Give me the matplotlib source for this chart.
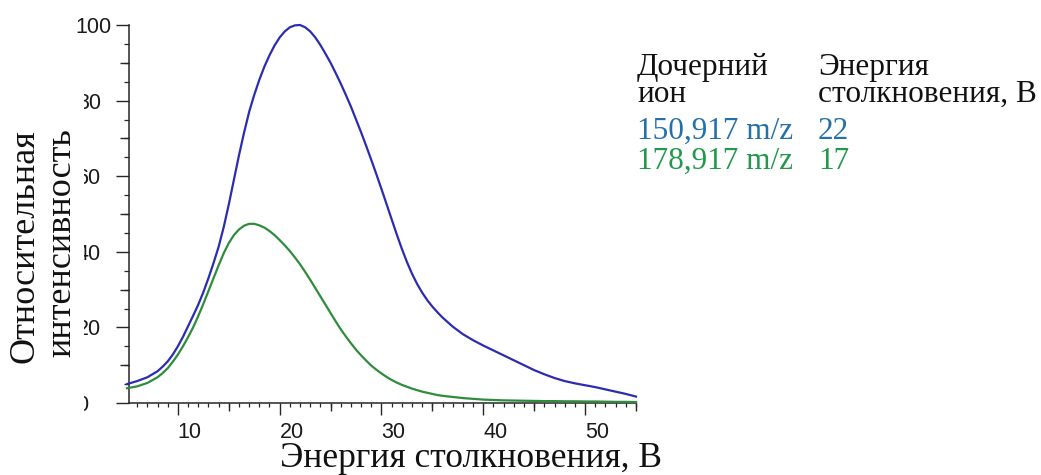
import matplotlib
matplotlib.use("Agg")
import matplotlib.pyplot as plt
from matplotlib.ticker import FixedLocator, MultipleLocator, NullFormatter
from matplotlib.patches import Rectangle

# Collision energy, V (finer steps across the peaks)
energy = [5, 6, 7, 8, 8.5, 9, 9.5, 10, 10.5, 11, 11.5, 12, 12.5, 13, 13.5,
          14, 14.5, 15, 15.5, 16, 16.5, 17, 17.5, 18, 18.5, 19, 19.5, 20,
          20.5, 21, 21.5, 22, 22.5, 23, 23.5, 24, 24.5, 25, 25.5, 26, 26.5,
          27, 27.5, 28, 28.5, 29, 29.5, 30, 30.5, 31, 31.5, 32, 32.5, 33,
          33.5, 34, 34.5, 35, 35.5, 36, 37, 38, 39, 40, 41, 42, 43, 44, 45,
          46, 47, 48, 49, 50, 51, 52, 53, 54, 55]

# Relative intensity of the product ions
ion_150 = [5.0, 5.8, 6.8, 8.4, 9.6, 11.0, 12.8, 15.0, 17.5, 20.3, 23.1,
           26.0, 29.3, 33.0, 37.0, 41.3, 46.5, 52.5, 59.0, 65.5, 71.5,
           77.0, 81.5, 85.5, 89.0, 92.0, 94.6, 96.7, 98.3, 99.4, 99.9,
           100.0, 99.4, 98.3, 96.7, 94.7, 92.4, 90.0, 87.3, 84.5, 81.5,
           78.4, 75.0, 71.6, 68.0, 64.3, 60.5, 56.6, 52.6, 48.6, 44.6,
           40.8, 37.3, 34.2, 31.5, 29.2, 27.2, 25.5, 24.0, 22.6, 20.2,
           18.2, 16.6, 15.2, 13.9, 12.6, 11.3, 10.0, 8.7, 7.6, 6.6, 5.8,
           5.2, 4.7, 4.2, 3.6, 3.0, 2.4, 1.7]
ion_178 = [3.9, 4.4, 5.3, 6.8, 7.9, 9.2, 10.9, 12.8, 15.0, 17.4, 20.0,
           23.0, 26.2, 29.6, 33.0, 36.4, 39.6, 42.3, 44.4, 45.9, 46.9,
           47.4, 47.4, 47.0, 46.4, 45.5, 44.4, 43.1, 41.7, 40.2, 38.5,
           36.7, 34.7, 32.6, 30.4, 28.2, 26.0, 23.8, 21.6, 19.5, 17.6,
           15.8, 14.1, 12.6, 11.2, 9.9, 8.8, 7.8, 6.9, 6.1, 5.4, 4.8,
           4.3, 3.8, 3.4, 3.0, 2.7, 2.4, 2.1, 1.9, 1.6, 1.3, 1.1, 0.9,
           0.8, 0.7, 0.65, 0.6, 0.55, 0.5, 0.5, 0.45, 0.45, 0.4, 0.4,
           0.35, 0.3, 0.3, 0.25]

ion_labels = ["150,917 m/z", "178,917 m/z"]
optimal_energy = [22, 17]

x_ticks = [10, 20, 30, 40, 50]
x_mid_ticks = [15, 25, 35, 45, 55]
y_ticks = [0, 20, 40, 60, 80, 100]
y_mid_ticks = [10, 30, 50, 70, 90]

line_colors = ["#2c2cb2", "#2e8c3c"]
text_colors = ["#2470a8", "#22984a"]

SANS = "Liberation Sans"
SERIF = "Liberation Serif"
AXIS_COLOR = "#262626"

W, H = 1041, 475
fig = plt.figure(figsize=(W / 100, H / 100), dpi=100)
ax = fig.add_axes([129 / W, 1 - 403 / H, (636 - 129) / W, (403 - 25) / H])

for y, c in zip([ion_150, ion_178], line_colors):
    ax.plot(energy, y, color=c, lw=1.6, clip_on=False, zorder=3,
            solid_joinstyle="round")

ax.set_xlim(5.2, 55)
ax.set_ylim(0, 100)

for side in ("top", "right"):
    ax.spines[side].set_visible(False)
for side in ("left", "bottom"):
    ax.spines[side].set_linewidth(1.1)
    ax.spines[side].set_color(AXIS_COLOR)

# x axis: labelled ticks every 10, medium at 5s, small every unit
ax.xaxis.set_major_locator(FixedLocator(x_ticks))
ax.xaxis.set_minor_locator(MultipleLocator(1))
ax.xaxis.set_minor_formatter(NullFormatter())
ax.tick_params(axis="x", which="major", direction="out", length=8.6, width=1.0,
               color=AXIS_COLOR, pad=5, labelsize=15.5, labelcolor="#1a1a1a")
ax.tick_params(axis="x", which="minor", direction="out", length=3.0, width=0.9,
               color=AXIS_COLOR)
for lab in ax.get_xticklabels():
    lab.set_fontfamily(SANS)
    lab.set_horizontalalignment("left")

# y axis: labelled ticks every 20, medium at 10s, small every 5
ax.yaxis.set_major_locator(FixedLocator(y_ticks))
ax.yaxis.set_minor_locator(MultipleLocator(5))
ax.yaxis.set_minor_formatter(NullFormatter())
ax.tick_params(axis="y", which="major", direction="out", length=9.4, width=1.0,
               color=AXIS_COLOR, pad=10.8, labelsize=15.5, labelcolor="#1a1a1a")
ax.tick_params(axis="y", which="minor", direction="out", length=3.6, width=0.9,
               color=AXIS_COLOR)
for lab in ax.get_yticklabels():
    lab.set_fontfamily(SANS)
for tick, v in zip(ax.yaxis.get_major_ticks(), y_ticks):
    if v == 100:
        tick.set_pad(3.0)
    elif v == 0:
        tick.set_pad(20.0)

secx = ax.secondary_xaxis("bottom")
secx.set_xticks(x_mid_ticks)
secx.xaxis.set_major_formatter(NullFormatter())
secx.tick_params(axis="x", direction="out", length=6.0, width=1.0, color=AXIS_COLOR)
secx.spines["bottom"].set_visible(False)

secy = ax.secondary_yaxis("left")
secy.set_yticks(y_mid_ticks)
secy.yaxis.set_major_formatter(NullFormatter())
secy.tick_params(axis="y", direction="out", length=6.5, width=1.0, color=AXIS_COLOR)
secy.spines["left"].set_visible(False)

# white panel behind the y-axis title
fig.add_artist(Rectangle((0, 1 - 420 / H), 84 / W, (420 - 45) / H,
                         transform=fig.transFigure, facecolor="white",
                         edgecolor="none", zorder=5))

fig.text(25 / W, 1 - 246 / H, "Относительная", rotation=90, ha="center",
         va="center", fontsize=26, family=SERIF, color="#111111", zorder=6)
fig.text(62 / W, 1 - 243 / H, "интенсивность", rotation=90, ha="center",
         va="center", fontsize=26, family=SERIF, color="#111111", zorder=6)

fig.text(280 / W, 1 - 467 / H, "Энергия столкновения, В", ha="left",
         va="baseline", fontsize=25.5, family=SERIF, color="#111111")

# ion / collision energy table
col1, col2 = 637 / W, 818 / W
fs_table = 22.5
fig.text(col1, 1 - 75 / H, "Дочерний", ha="left", va="baseline",
         fontsize=fs_table, family=SERIF, color="#111111")
fig.text(col1, 1 - 102 / H, "ион", ha="left", va="baseline",
         fontsize=fs_table, family=SERIF, color="#111111")
fig.text(col2, 1 - 75 / H, "Энергия", ha="left", va="baseline",
         fontsize=fs_table, family=SERIF, color="#111111")
fig.text(col2, 1 - 102 / H, "столкновения, В", ha="left", va="baseline",
         fontsize=fs_table, family=SERIF, color="#111111")
for i, (name, e, c) in enumerate(zip(ion_labels, optimal_energy, text_colors)):
    base = 139 + 30 * i
    fig.text(col1, 1 - base / H, name, ha="left", va="baseline",
             fontsize=fs_table, family=SERIF, color=c)
    fig.text(col2, 1 - base / H, str(e), ha="left", va="baseline",
             fontsize=fs_table, family=SERIF, color=c)

fig.savefig("out.png", dpi=100, facecolor="white")
